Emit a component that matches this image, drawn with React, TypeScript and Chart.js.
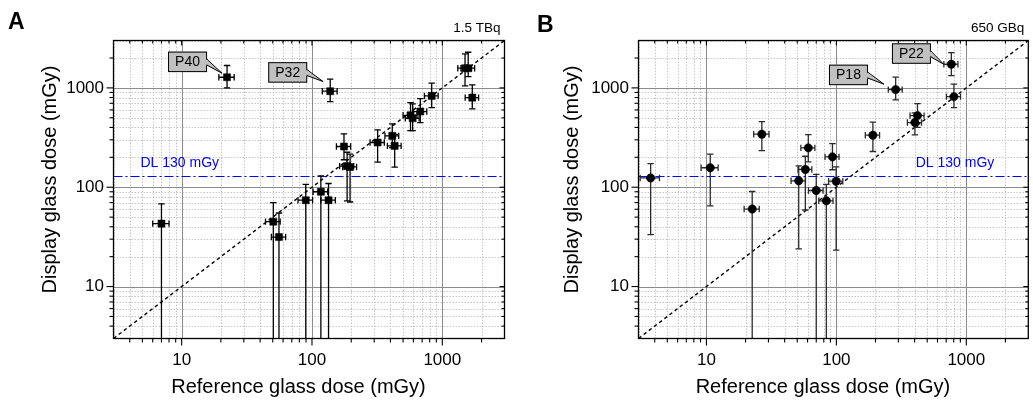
import React, { useEffect, useRef } from 'react';
import { Chart, registerables } from 'chart.js';

Chart.register(...registerables);

const FONT = "'Liberation Sans', Arial, Helvetica, sans-serif";

// ---- shared axis data ----
const axisTicks = [3, 4, 5, 6, 7, 8, 9, 10, 20, 30, 40, 50, 60, 70, 80, 90, 100, 200, 300, 400, 500, 600, 700, 800, 900, 1000, 2000, 3000];
const decadeTicks = [10, 100, 1000];
const axisMin = 3;
const axisMax = 3000;
const detectionLimit = 130;
const xTitle = 'Reference glass dose (mGy)';
const yTitle = 'Display glass dose (mGy)';
const dlLabel = 'DL 130 mGy';

// ---- Panel A (1.5 TBq) ----
const refA = [7.0, 22.3, 50.5, 55.8, 89.6, 117, 134, 138, 176, 186, 196, 319, 413, 431, 570, 592, 678, 829, 1494, 1580, 1698];
const refErrA = [1.0, 3.0, 6.5, 7.0, 11.5, 15, 17, 18, 22, 23, 24, 40, 50, 52, 70, 72, 82, 100, 180, 190, 200];
const dispA = [43, 1280, 45, 31.5, 74, 90, 74, 926, 257, 163, 160, 282, 329, 261, 530, 495, 578, 831, 1578, 1578, 798];
const dispLowA = [0, 1000, 0, 0, 0, 0, 0, 728, 189, 73, 71, 179, 250, 159, 372, 372, 448, 634, 1047, 1300, 615];
const dispHighA = [68, 1680, 70, 55, 107, 130, 109, 1224, 345, 225, 215, 378, 434, 340, 711, 690, 780, 1115, 2198, 2286, 1072];

// ---- Panel B (650 GBq) ----
const refB = [3.72, 10.7, 22.5, 26.7, 51.3, 57.7, 60.8, 70, 83.7, 93.3, 99.6, 191, 286, 402, 421, 767, 803];
const refErrB = [0.63, 1.6, 3.0, 3.6, 6.5, 7, 7.5, 9, 10.5, 11.5, 12.5, 24, 35, 50, 52, 95, 100];
const dispB = [124, 157, 60.3, 342, 116, 151, 249, 92.7, 73, 202, 115, 334, 961, 448, 526, 1730, 817];
const dispLowB = [33.4, 65, 0, 234, 24, 59, 180, 0, 0, 150, 23.3, 229, 757, 336, 400, 1330, 634];
const dispHighB = [173, 215, 90.6, 458, 164, 205, 339, 135, 107, 275, 160, 452, 1282, 560, 695, 2265, 1090];

type Callout = { label: string; index: number; dx: number; dy: number; tipDx: number; tipDy: number };

const calloutsA: Callout[] = [
  { label: 'P40', index: 1, dx: -39.5, dy: -15.4, tipDx: -5, tipDy: -4 },
  { label: 'P32', index: 7, dx: -42.5, dy: -18.8, tipDx: -7, tipDy: -9.6 },
];
const calloutsB: Callout[] = [
  { label: 'P18', index: 12, dx: -47.2, dy: -14.7, tipDx: -11.7, tipDy: -5.4 },
  { label: 'P22', index: 15, dx: -39.9, dy: -10.7, tipDx: -7.7, tipDy: 0 },
];

type PanelCfg = {
  letter: string;
  activity: string;
  ref: number[];
  refErr: number[];
  disp: number[];
  dispLow: number[];
  dispHigh: number[];
  callouts: Callout[];
  pointStyle: 'rect' | 'circle';
  pointRadius: number;
  errColor: string;
  canvasLeft: number;
  canvasWidth: number;
  areaLeft: number;
  areaRight: number;
  letterX: number;
  letterY: number;
  dlAlign: 'left' | 'right';
  dlOffset: number;
  yTitleOffset: number;
};

const panels: PanelCfg[] = [
  {
    letter: 'A', activity: '1.5 TBq', ref: refA, refErr: refErrA, disp: dispA, dispLow: dispLowA, dispHigh: dispHighA,
    callouts: calloutsA, pointStyle: 'rect', pointRadius: 5, errColor: '#000',
    canvasLeft: 0, canvasWidth: 520, areaLeft: 113.5, areaRight: 504.5, letterX: 8, letterY: 28.5,
    dlAlign: 'left', dlOffset: 27, yTitleOffset: 58,
  },
  {
    letter: 'B', activity: '650 GBq', ref: refB, refErr: refErrB, disp: dispB, dispLow: dispLowB, dispHigh: dispHighB,
    callouts: calloutsB, pointStyle: 'circle', pointRadius: 4.2, errColor: '#2a2a2a',
    canvasLeft: 520, canvasWidth: 513, areaLeft: 118.5, areaRight: 509.7, letterX: 17, letterY: 31.5,
    dlAlign: 'right', dlOffset: 34, yTitleOffset: 60.5,
  },
];

const AREA_TOP = 40.5;
const AREA_BOTTOM = 338.5;
const CANVAS_H = 401;

function makePlugin(cfg: PanelCfg) {
  const line = (ctx: CanvasRenderingContext2D, x1: number, y1: number, x2: number, y2: number) => {
    ctx.beginPath();
    ctx.moveTo(x1, y1);
    ctx.lineTo(x2, y2);
    ctx.stroke();
  };
  return {
    id: 'panelDecor' + cfg.letter,
    beforeDatasetsDraw(chart: any) {
      const { ctx, chartArea: a } = chart;
      const xs = chart.scales.x;
      const ys = chart.scales.y;
      ctx.save();
      ctx.beginPath();
      ctx.rect(a.left, a.top, a.right - a.left, a.bottom - a.top);
      ctx.clip();

      // minor grid
      ctx.lineWidth = 1;
      ctx.strokeStyle = '#c6c6c6';
      ctx.setLineDash([1.5, 1.5]);
      for (const v of axisTicks) {
        if (decadeTicks.includes(v)) continue;
        const px = Math.round(xs.getPixelForValue(v)) + 0.5;
        line(ctx, px, a.top, px, a.bottom);
        const py = Math.round(ys.getPixelForValue(v)) + 0.5;
        line(ctx, a.left, py, a.right, py);
      }
      // major grid
      ctx.setLineDash([]);
      ctx.strokeStyle = '#8c8c8c';
      for (const v of decadeTicks) {
        const px = Math.round(xs.getPixelForValue(v)) + 0.5;
        line(ctx, px, a.top, px, a.bottom);
        const py = Math.round(ys.getPixelForValue(v)) + 0.5;
        line(ctx, a.left, py, a.right, py);
      }

      // detection limit
      const dly = Math.round(ys.getPixelForValue(detectionLimit)) + 0.5;
      ctx.strokeStyle = '#0000ff';
      ctx.lineWidth = 1.2;
      ctx.setLineDash([9, 3, 2, 3]);
      line(ctx, a.left, dly, a.right, dly);

      // identity line
      ctx.strokeStyle = '#000';
      ctx.lineWidth = 1.4;
      ctx.setLineDash([3.5, 3]);
      line(ctx, xs.getPixelForValue(axisMin), ys.getPixelForValue(axisMin), xs.getPixelForValue(axisMax), ys.getPixelForValue(axisMax));

      // error bars
      ctx.setLineDash([]);
      ctx.strokeStyle = cfg.errColor;
      ctx.lineWidth = 1.3;
      const cap = 3.2;
      for (let i = 0; i < cfg.ref.length; i++) {
        const px = xs.getPixelForValue(cfg.ref[i]);
        const py = ys.getPixelForValue(cfg.disp[i]);
        const xl = xs.getPixelForValue(cfg.ref[i] - cfg.refErr[i]);
        const xr = xs.getPixelForValue(cfg.ref[i] + cfg.refErr[i]);
        line(ctx, xl, py, xr, py);
        line(ctx, xl, py - cap, xl, py + cap);
        line(ctx, xr, py - cap, xr, py + cap);
        const yt = ys.getPixelForValue(cfg.dispHigh[i]);
        const belowAxis = !(cfg.dispLow[i] > axisMin);
        const yb = belowAxis ? a.bottom + 2 : ys.getPixelForValue(cfg.dispLow[i]);
        line(ctx, px, yt, px, yb);
        line(ctx, px - cap, yt, px + cap, yt);
        if (!belowAxis) line(ctx, px - cap, yb, px + cap, yb);
      }
      ctx.restore();
    },
    afterDatasetsDraw(chart: any) {
      const { ctx, chartArea: a } = chart;
      const xs = chart.scales.x;
      const ys = chart.scales.y;
      ctx.save();
      // frame
      ctx.setLineDash([]);
      ctx.strokeStyle = '#000';
      ctx.lineWidth = 1.3;
      ctx.strokeRect(a.left, a.top, a.right - a.left, a.bottom - a.top);
      // ticks
      ctx.lineWidth = 1.1;
      for (const v of axisTicks) {
        const major = decadeTicks.includes(v);
        const px = xs.getPixelForValue(v);
        const py = ys.getPixelForValue(v);
        const outL = major ? 7 : 4;
        const inL = major ? 5 : 3;
        if (px > a.left + 0.5 && px < a.right - 0.5) {
          line(ctx, px, a.bottom, px, a.bottom + outL);
          line(ctx, px, a.top, px, a.top + inL);
        }
        if (py > a.top + 0.5 && py < a.bottom - 0.5) {
          line(ctx, a.left, py, a.left - outL, py);
          line(ctx, a.right, py, a.right - inL, py);
        }
      }

      // callouts
      for (const c of cfg.callouts) {
        const mx = xs.getPixelForValue(cfg.ref[c.index]);
        const my = ys.getPixelForValue(cfg.disp[c.index]);
        const w = 39;
        const h = 20.5;
        const cx = mx + c.dx;
        const cy = my + c.dy;
        const bx = cx - w / 2;
        const by = cy - h / 2;
        ctx.fillStyle = '#c0c0c0';
        ctx.strokeStyle = '#000';
        ctx.lineWidth = 1;
        ctx.fillRect(bx, by, w, h);
        ctx.strokeRect(bx + 0.5, by + 0.5, w - 1, h - 1);
        const rx = bx + w - 0.5;
        const tx = mx + c.tipDx;
        const ty = my + c.tipDy;
        ctx.beginPath();
        ctx.moveTo(rx - 1, cy - 3);
        ctx.lineTo(tx, ty);
        ctx.lineTo(rx - 1, cy + 3);
        ctx.closePath();
        ctx.fill();
        line(ctx, rx, cy - 3, tx, ty);
        line(ctx, rx, cy + 3, tx, ty);
        ctx.fillStyle = '#000';
        ctx.font = `14px ${FONT}`;
        ctx.textAlign = 'center';
        ctx.textBaseline = 'middle';
        ctx.fillText(c.label, cx, cy + 0.5);
      }

      // DL label
      ctx.fillStyle = '#0000ff';
      ctx.font = `14px ${FONT}`;
      ctx.textBaseline = 'alphabetic';
      const dly = ys.getPixelForValue(detectionLimit);
      if (cfg.dlAlign === 'left') {
        ctx.textAlign = 'left';
        ctx.fillText(dlLabel, a.left + cfg.dlOffset, dly - 9);
      } else {
        ctx.textAlign = 'right';
        ctx.fillText(dlLabel, a.right - cfg.dlOffset, dly - 9);
      }

      // activity label
      ctx.fillStyle = '#000';
      ctx.font = `13.5px ${FONT}`;
      ctx.textAlign = 'right';
      ctx.fillText(cfg.activity, a.right - 4, 31.5);

      // panel letter
      ctx.font = `bold 23px ${FONT}`;
      ctx.textAlign = 'left';
      ctx.fillText(cfg.letter, cfg.letterX, cfg.letterY);

      // axis titles
      ctx.font = `20px ${FONT}`;
      ctx.textAlign = 'center';
      ctx.fillText(xTitle, (a.left + a.right) / 2 - 10.5, 392.5);
      ctx.save();
      ctx.translate(a.left - cfg.yTitleOffset, (a.top + a.bottom) / 2 - 10);
      ctx.rotate(-Math.PI / 2);
      ctx.fillText(yTitle, 0, 0);
      ctx.restore();

      ctx.restore();
    },
  };
}

function Panel({ cfg }: { cfg: PanelCfg }) {
  const ref = useRef<HTMLCanvasElement | null>(null);
  useEffect(() => {
    if (!ref.current) return;
    const tickFont = { family: FONT, size: 17 };
    const labelCb = (v: any) => (decadeTicks.includes(Number(v)) ? String(v) : '');
    const chart = new Chart(ref.current, {
      type: 'scatter',
      data: {
        datasets: [
          {
            data: cfg.ref.map((v, i) => ({ x: v, y: cfg.disp[i] })),
            pointStyle: cfg.pointStyle,
            pointRadius: cfg.pointRadius,
            pointBackgroundColor: '#000',
            pointBorderColor: '#000',
            pointBorderWidth: 0.5,
            showLine: false,
          } as any,
        ],
      },
      options: {
        animation: false,
        responsive: false,
        maintainAspectRatio: false,
        devicePixelRatio: 1,
        events: [],
        layout: {
          padding: { left: 0, right: cfg.canvasWidth - cfg.areaRight, top: AREA_TOP, bottom: 0 },
        },
        plugins: { legend: { display: false }, tooltip: { enabled: false }, title: { display: false } },
        scales: {
          x: {
            type: 'logarithmic',
            position: 'bottom',
            min: axisMin,
            max: axisMax,
            afterBuildTicks: (s: any) => {
              s.ticks = axisTicks.map((v) => ({ value: v }));
            },
            afterFit: (s: any) => {
              s.height = CANVAS_H - AREA_BOTTOM;
              s.paddingLeft = 0;
              s.paddingRight = 0;
            },
            grid: { display: false, drawTicks: false },
            border: { display: false },
            ticks: { callback: labelCb, font: tickFont, color: '#000', maxRotation: 0, autoSkip: false, padding: 12 },
          },
          y: {
            type: 'logarithmic',
            position: 'left',
            min: axisMin,
            max: axisMax,
            afterBuildTicks: (s: any) => {
              s.ticks = axisTicks.map((v) => ({ value: v }));
            },
            afterFit: (s: any) => {
              s.width = cfg.areaLeft;
              s.paddingTop = 0;
              s.paddingBottom = 0;
            },
            grid: { display: false, drawTicks: false },
            border: { display: false },
            ticks: { callback: labelCb, font: tickFont, color: '#000', autoSkip: false, padding: 9.5 },
          },
        },
      } as any,
      plugins: [makePlugin(cfg)],
    });
    return () => chart.destroy();
  }, [cfg]);
  return (
    <canvas
      ref={ref}
      width={cfg.canvasWidth}
      height={CANVAS_H}
      style={{ position: 'absolute', left: cfg.canvasLeft, top: 0, width: cfg.canvasWidth, height: CANVAS_H, display: 'block' }}
    />
  );
}

export default function App() {
  return (
    <div style={{ position: 'absolute', left: 0, top: 0, width: 1033, height: CANVAS_H, background: '#fff', overflow: 'hidden' }}>
      {panels.map((p) => (
        <Panel key={p.letter} cfg={p} />
      ))}
    </div>
  );
}
